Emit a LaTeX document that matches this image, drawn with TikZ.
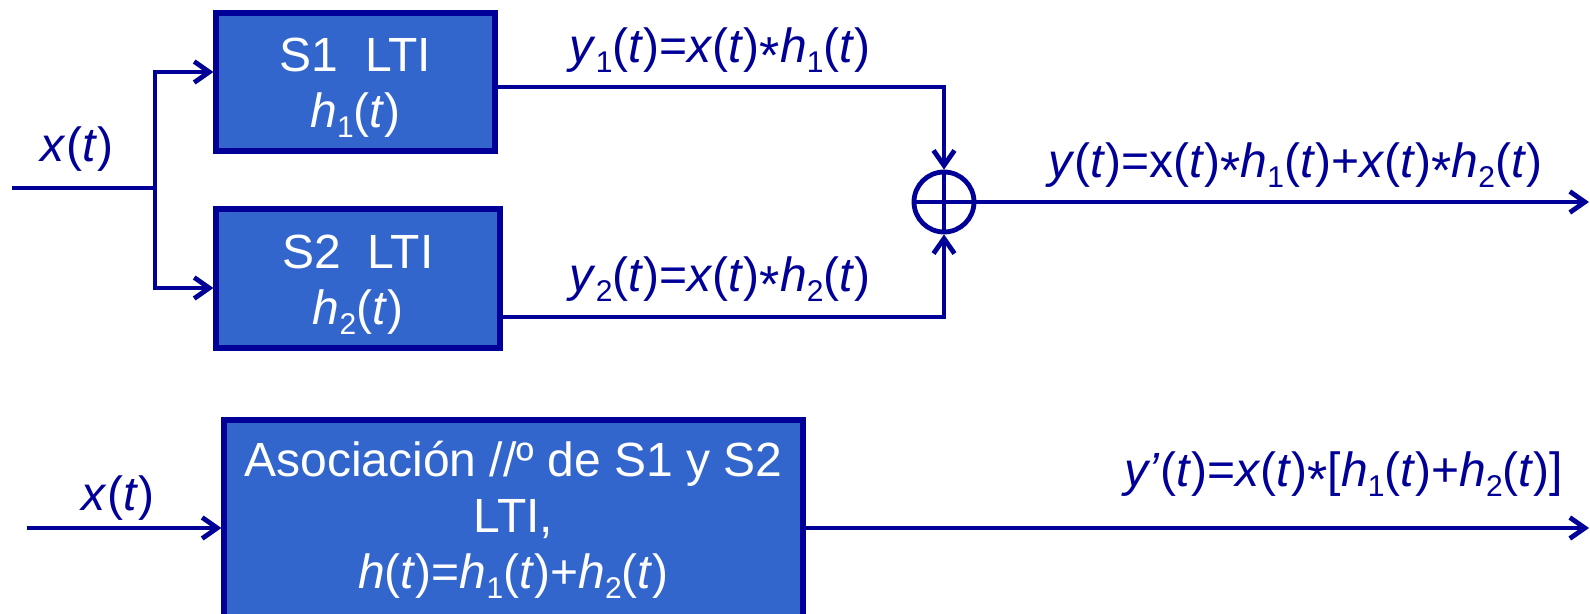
\documentclass[tikz,border=0pt]{standalone}
\usepackage{fontspec}
\setmainfont{Liberation Sans}
\usetikzlibrary{arrows.meta}
\definecolor{navy}{HTML}{000099}
\definecolor{boxblue}{HTML}{3366CC}
\newcommand\sub[1]{\raisebox{-5pt}{\fontsize{15}{15}\selectfont #1}}
\newcommand\conv{\raisebox{-5.5pt}{\fontsize{26}{26}\selectfont *}}
\newcommand\iv[1]{\textit{#1}}
\begin{document}
\begin{tikzpicture}[x=0.5pt,y=-0.5pt,
  box/.style={draw=navy, fill=boxblue, line width=2.6pt, inner sep=0pt, text=white,
    align=center, font=\fontsize{24}{28}\selectfont},
  lbl/.style={text=navy, font=\fontsize{24}{28}\selectfont, inner sep=0pt, anchor=base},
  wire/.style={draw=navy, line width=2.4pt},
  arr/.style={wire, -{Straight Barb[length=7.5pt,width=10.5pt]}},
  sumnode/.style={draw=navy, line width=2.4pt, circle, minimum size=30pt, inner sep=0pt,
    path picture={\draw[navy,line width=2.4pt]
      (path picture bounding box.north) -- (path picture bounding box.south)
      (path picture bounding box.west) -- (path picture bounding box.east);}}]
\clip (0,0) rectangle (1590,614);
% boxes
\node[box, minimum width=139.5pt, minimum height=69pt] (S1) at (355.5,82)
  {\rule{0pt}{23pt}S1\ \ LTI\\\iv{h}\sub{1}(\iv{t})};
\node[box, minimum width=142pt, minimum height=69.5pt] (S2) at (358,278.5)
  {\rule{0pt}{23pt}S2\ \ LTI\\\iv{h}\sub{2}(\iv{t})};
\node[sumnode] (sum) at (944,202) {};
\node[box, minimum width=289.5pt, minimum height=100pt] (B) at (513.5,520)
  {Asociación //º de S1 y S2\\LTI,\\\iv{h}(\iv{t})=\iv{h}\sub{1}(\iv{t})+\iv{h}\sub{2}(\iv{t})};
% connectors top
\coordinate (in) at (12,188);
\coordinate (br) at (155,188);
\coordinate (out) at (1589,202);
\draw[wire] (in) -- (br);
\draw[arr] (br) |- ([yshift=5pt]S1.west);
\draw[arr] (br) |- ([yshift=-4.75pt]S2.west);
\draw[arr] ([yshift=-2.5pt]S1.east) -| (sum.north);
\draw[arr] ([yshift=-19.25pt]S2.east) -| (sum.south);
\draw[arr] (sum.east) -- (out);
% connectors bottom
\coordinate (in2) at (27,528);
\coordinate (out2) at (1589,528);
\draw[arr] (in2) -- (in2 -| B.west);
\draw[arr] (out2 -| B.east) -- (out2);
% labels
\node[lbl] (lx) at (77,162) {\iv{x}(\iv{t})};
\node[lbl] (ly1) at (720,63) {\iv{y}\sub{1}(\iv{t})=\iv{x}(\iv{t})\conv\iv{h}\sub{1}(\iv{t})};
\node[lbl] (ly2) at (720,292) {\iv{y}\sub{2}(\iv{t})=\iv{x}(\iv{t})\conv\iv{h}\sub{2}(\iv{t})};
\node[lbl] (ly) at (1295,178) {\iv{y}(\iv{t})=x(\iv{t})\conv\iv{h}\sub{1}(\iv{t})+\iv{x}(\iv{t})\conv\iv{h}\sub{2}(\iv{t})};
\node[lbl] (lx2) at (118,510) {\iv{x}(\iv{t})};
\node[lbl] (lyp) at (1344,487) {\iv{y’}(\iv{t})=\iv{x}(\iv{t})\conv[\iv{h}\sub{1}(\iv{t})+\iv{h}\sub{2}(\iv{t})]};
\end{tikzpicture}
\end{document}
